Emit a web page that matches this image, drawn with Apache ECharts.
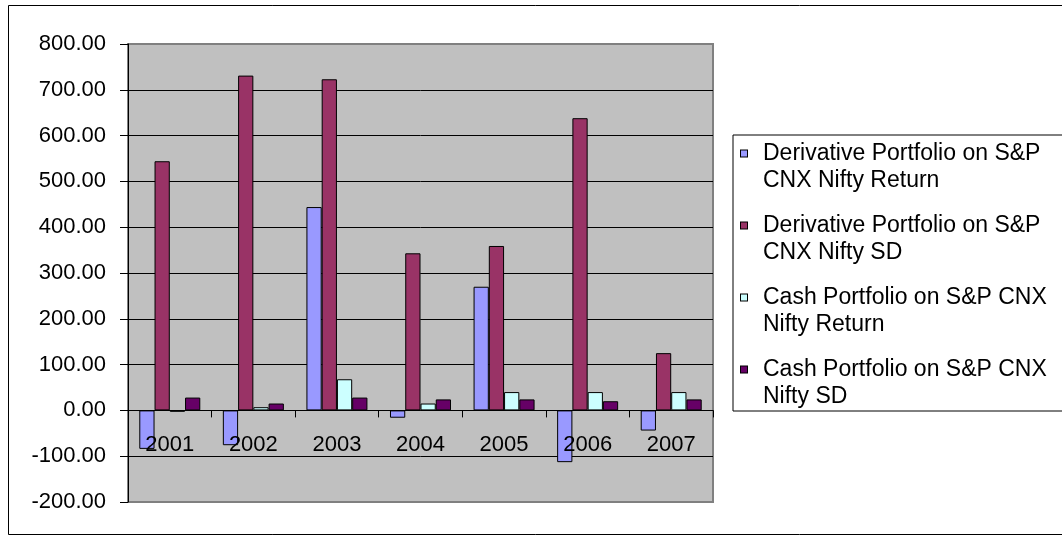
<!DOCTYPE html>
<html>
<head>
<meta charset="utf-8">
<script src="https://cdn.jsdelivr.net/npm/echarts@6/dist/echarts.min.js"></script>
<style>
html,body{margin:0;padding:0;background:#fff;}
#chart{width:1062px;height:540px;}
</style>
</head>
<body>
<div id="chart"></div>
<script>
const years = ['2001', '2002', '2003', '2004', '2005', '2006', '2007'];
const seriesNames = [
  'Derivative Portfolio on S&P CNX Nifty Return',
  'Derivative Portfolio on S&P CNX Nifty SD',
  'Cash Portfolio on S&P CNX Nifty Return',
  'Cash Portfolio on S&P CNX Nifty SD'
];
const legendLine1 = [
  'Derivative Portfolio on S&P',
  'Derivative Portfolio on S&P',
  'Cash Portfolio on S&P CNX',
  'Cash Portfolio on S&P CNX'
];
const legendLine2 = [
  'CNX Nifty Return',
  'CNX Nifty SD',
  'Nifty Return',
  'Nifty SD'
];
const derivReturn = [-84, -76, 444, -16, 270, -113, -44];
const derivSD = [544, 731, 723, 343, 359, 638, 125];
const cashReturn = [-3, 7, 68, 15, 40, 40, 40];
const cashSD = [28, 15, 28, 24, 24, 20, 24];
const seriesValues = [derivReturn, derivSD, cashReturn, cashSD];
const colors = ['#9999FF', '#993366', '#CCFFFF', '#660066'];

const yMin = -200, yMax = 800, yStep = 100;
const FONT = 'Arial, "Liberation Sans", sans-serif';

const nLines = (yMax - yMin) / yStep + 1;
const splitColors = [];
for (let i = 0; i < nLines; i++) splitColors.push(i === 0 || i === nLines - 1 ? '#808080' : '#000000');

const rich = {
  t: {fontFamily: FONT, fontSize: 23, lineHeight: 27, color: '#000'},
  gap: {width: 16, height: 8},
  ind: {width: 22, height: 8}
};
colors.forEach(function (c, i) {
  rich['b' + i] = {width: 6, height: 6, backgroundColor: c, borderColor: '#000', borderWidth: 1};
});

const chart = echarts.init(document.getElementById('chart'), null, {renderer: 'canvas'});
chart.setOption({
  animation: false,
  backgroundColor: '#ffffff',
  textStyle: {fontFamily: FONT},
  graphic: [{
    type: 'rect', silent: true, z: -10,
    shape: {x: 8.5, y: 5.5, width: 1100, height: 529},
    style: {fill: 'none', stroke: '#000', lineWidth: 1}
  }],
  grid: {
    left: 128, top: 44, width: 585, height: 458,
    outerBoundsMode: 'none', containLabel: false,
    show: true, backgroundColor: '#C0C0C0', borderColor: '#808080', borderWidth: 2
  },
  legend: {
    orient: 'vertical',
    left: 733, top: 135,
    padding: [5, 40, 1, 3],
    backgroundColor: '#ffffff',
    borderColor: '#000', borderWidth: 1,
    itemWidth: 0, itemHeight: 0,
    itemGap: 18, itemTextGap: 0,
    icon: 'none',
    selectedMode: false,
    data: seriesNames,
    formatter: function (name) {
      const i = seriesNames.indexOf(name);
      return '{b' + i + '|}{gap|}{t|' + legendLine1[i] + '}\n{ind|}{t|' + legendLine2[i] + '}';
    },
    textStyle: {fontFamily: FONT, fontSize: 23, lineHeight: 27, color: '#000', rich: rich}
  },
  xAxis: {
    type: 'category', data: years, z: 5,
    axisLine: {onZero: true, lineStyle: {color: '#000', width: 1}},
    axisTick: {show: true, length: 7, alignWithLabel: false, lineStyle: {color: '#000'}},
    axisLabel: {fontFamily: FONT, fontSize: 22, color: '#000', margin: -68},
    splitLine: {show: false}
  },
  yAxis: {
    type: 'value', min: yMin, max: yMax, interval: yStep,
    axisLine: {show: true, lineStyle: {color: '#000', width: 1}},
    axisTick: {show: true, length: 8, lineStyle: {color: '#000'}},
    axisLabel: {fontFamily: FONT, fontSize: 22, color: '#000', margin: 22,
      formatter: function (v) { return v.toFixed(2); }},
    splitLine: {show: true, lineStyle: {color: splitColors, width: 1}}
  },
  series: seriesNames.map(function (n, i) {
    return {
      name: n, type: 'bar', data: seriesValues[i],
      barGap: '0%', barCategoryGap: '27%',
      itemStyle: {color: colors[i], borderColor: '#000', borderWidth: 1}
    };
  })
});
</script>
</body>
</html>
